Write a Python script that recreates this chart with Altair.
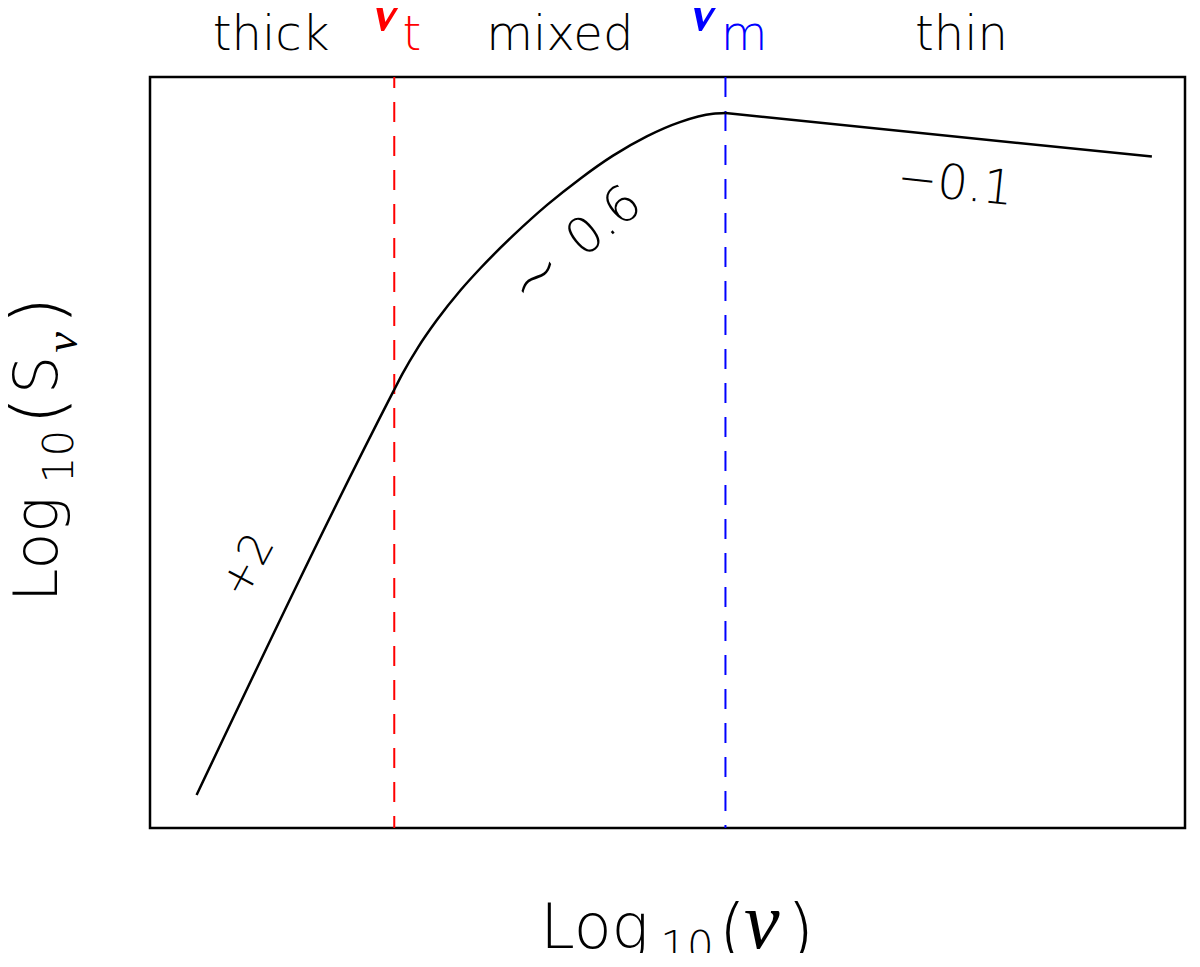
import altair as alt
import pandas as pd

# Spectrum (arbitrary log units)
log_nu = [0.45, 2.35, 2.44, 2.59, 2.77, 3.00, 3.19, 3.51, 3.84, 4.16, 4.47, 4.80, 5.12, 5.44, 5.56, 9.68]
log_s = [0.44, 5.81, 6.05, 6.40, 6.76, 7.16, 7.45, 7.89, 8.30, 8.65, 8.95, 9.21, 9.40, 9.51, 9.52, 8.94]
PEAK = 14  # index of the turnover point

# Characteristic frequencies
nu_names = ["t", "m"]
nu_values = [2.36, 5.56]
nu_colors = ["#ff0000", "#0000ff"]
nu_offsets = [9, 0]

# Region labels along the top
region_text = ["thick", "mixed", "thin"]
region_x = [1.17, 3.96, 7.84]

# Slope annotations
slope_text = ["+2", "~", "0.6", "\u22120.1"]
slope_x = [0.95, 3.74, 4.39, 7.78]
slope_y = [3.49, 7.32, 8.07, 8.56]
slope_angle = [298, 321, 321, 6]
slope_size = [44, 64, 50, 48]

FONT = "DejaVu Sans"
NU_FONT = "Liberation Serif"
WEIGHT = 200
TOP_Y = 10.36

curve = pd.DataFrame({"x": log_nu, "y": log_s})

rules = pd.DataFrame({"x": nu_values, "name": nu_names, "color": nu_colors,
                      "y": [10.0] * 2, "y2": [0.0] * 2})

top_reg = pd.DataFrame({
    "text": region_text + ["t", "m"],
    "x": region_x + [2.53, 5.74],
    "y": [TOP_Y] * 5,
    "color": ["black"] * 3 + nu_colors,
})
top_nu = pd.DataFrame({"text": ["\u03bd", "\u03bd"], "x": [2.28, 5.35],
                       "y": [10.63, 10.63], "color": nu_colors})

slopes = pd.DataFrame({"text": slope_text, "x": slope_x, "y": slope_y, "angle": slope_angle,
                       "size": slope_size})

# axis titles assembled from pieces (regular / italic, sizes)
title_reg = pd.DataFrame({
    "text": ["Log", "10", "(", ")", "Log", "10", "(", "S", ")"],
    "x": [3.77, 4.93, 5.49, 6.15, -0.90, -0.74, -0.85, -0.90, -0.85],
    "y": [-1.60, -1.77, -1.69, -1.69, 3.01, 4.59, 5.37, 5.78, 6.70],
    "size": [62, 42, 72, 72, 60, 42, 72, 60, 72],
    "angle": [0, 0, 0, 0, 270, 270, 270, 270, 270],
})
title_it = pd.DataFrame({
    "text": ["\u03bd", "\u03bd"],
    "x": [5.74, -0.71],
    "y": [-1.60, 6.33],
    "size": [80, 46],
    "angle": [0, 270],
})


def X(field="x"):
    return alt.X(f"{field}:Q", scale=alt.Scale(domain=[0, 10], nice=False, zero=False), axis=None)


def Y(field="y"):
    return alt.Y(f"{field}:Q", scale=alt.Scale(domain=[0, 10], nice=False, zero=False), axis=None)


# rising (thick + mixed) part, then optically thin power law
line_rise = alt.Chart(curve.iloc[0:PEAK + 1]).mark_line(
    color="black", strokeWidth=2.5, interpolate="monotone").encode(x=X(), y=Y())
line_thin = alt.Chart(curve.iloc[PEAK:]).mark_line(color="black", strokeWidth=2.5).encode(x=X(), y=Y())

rule_layers = []
for i in range(2):
    rule_layers.append(
        alt.Chart(rules.iloc[[i]].reset_index(drop=True)).mark_rule(
            color=nu_colors[i], strokeWidth=2, strokeDash=[20, 14], strokeDashOffset=nu_offsets[i]
        ).encode(x=X(), y=Y(), y2="y2:Q")
    )

top_text = alt.Chart(top_reg).mark_text(font=FONT, fontWeight=WEIGHT, fontSize=48, align="center",
                                         baseline="alphabetic").encode(
    x=X(), y=Y(), text="text:N", color=alt.Color("color:N", scale=None))

top_nu_text = alt.Chart(top_nu).mark_text(font=NU_FONT, fontSize=80, fontStyle="italic",
                                           align="center", baseline="alphabetic").encode(
    x=X(), y=Y(), text="text:N", color=alt.Color("color:N", scale=None))

slope_txt = alt.Chart(slopes).mark_text(font=FONT, fontWeight=WEIGHT, align="center",
                                         baseline="middle", color="black").encode(
    x=X(), y=Y(), text="text:N", angle=alt.Angle("angle:Q", scale=None),
    size=alt.Size("size:Q", scale=None))

title_reg_txt = alt.Chart(title_reg).mark_text(font=FONT, fontWeight=WEIGHT, align="left",
                                                baseline="alphabetic", color="black").encode(
    x=X(), y=Y(), text="text:N",
    size=alt.Size("size:Q", scale=None), angle=alt.Angle("angle:Q", scale=None))

title_it_txt = alt.Chart(title_it).mark_text(font=NU_FONT, align="left", fontStyle="italic",
                                              baseline="alphabetic", color="black").encode(
    x=X(), y=Y(), text="text:N",
    size=alt.Size("size:Q", scale=None), angle=alt.Angle("angle:Q", scale=None))

chart = alt.layer(
    *rule_layers, line_rise, line_thin,
    top_text, top_nu_text, slope_txt, title_reg_txt, title_it_txt
).properties(
    width=1035, height=751,
    autosize=alt.AutoSizeParams(type="none"),
    padding={"left": 142, "top": 69, "right": 5, "bottom": 125},
).configure_view(stroke="black", strokeWidth=2.5)

chart.save("out.html", embed_options={"renderer": "svg", "actions": False})
